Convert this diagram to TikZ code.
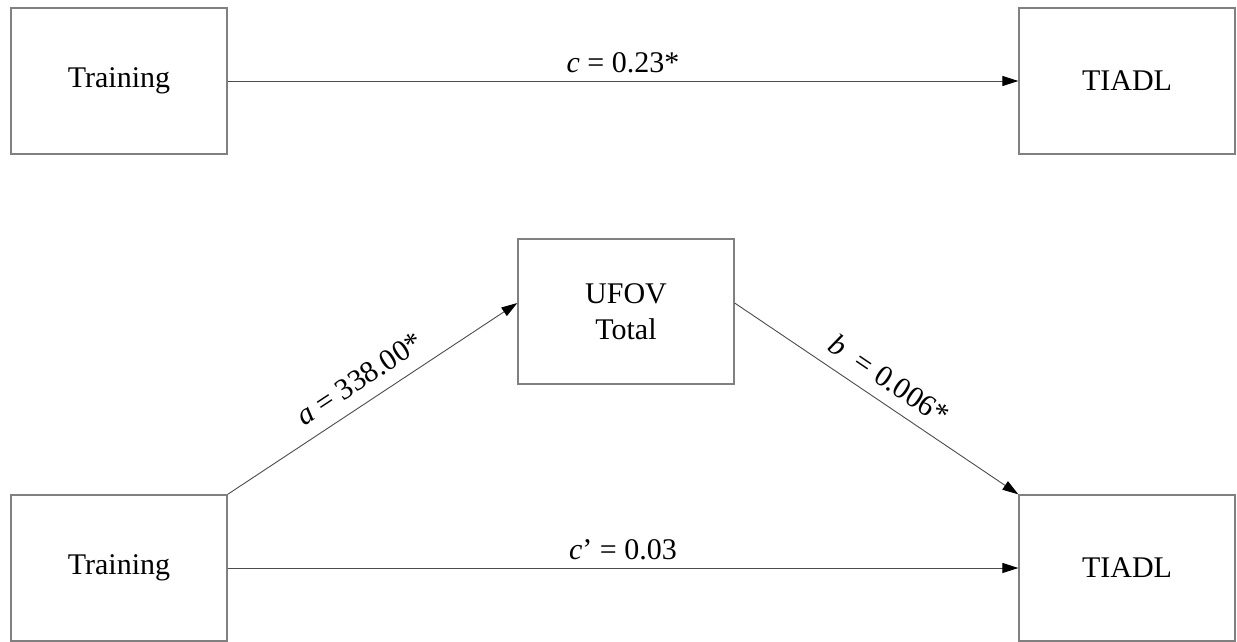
\documentclass[tikz,border=0pt]{standalone}
\usepackage{fontspec}
\setmainfont{Liberation Serif}
\usetikzlibrary{arrows.meta}
\begin{document}
\begin{tikzpicture}[x=1pt,y=-1pt,
  box/.style={draw=black!50,line width=1.3pt,minimum width=216pt,minimum height=146pt,inner sep=0pt,align=center,font=\fontsize{30}{36}\selectfont},
  conn/.style={draw=black!70,line width=0.9pt,-{Triangle[length=16pt,width=10pt,color=black]}},
  lab/.style={font=\fontsize{30}{34}\selectfont,inner sep=2pt}]
\useasboundingbox (0,0) rectangle (1237,642);
\node[box] (t1) at (119,81) {Training};
\node[box] (y1) at (1127,81) {TIADL};
\node[box,minimum height=145pt] (m) at (626,311.5) {UFOV\\Total};
\node[box] (t2) at (119,568) {Training};
\node[box] (y2) at (1127,568) {TIADL};
\draw[conn] (t1.east) -- node[lab,above=6pt] {\textit{c} = 0.23*} (y1.west);
\draw[conn] (t2.east) -- node[lab,above=6pt] {\textit{c}’ = 0.03} (y2.west);
\draw[conn] (t2.north east) -- node[lab,sloped,above=11pt,pos=0.5] {\textit{a} = 338.00*} ([yshift=8.5pt]m.west);
\draw[conn] ([yshift=8.5pt]m.east) -- node[lab,sloped,above=10pt,pos=0.5] {\textit{b}\ \ = 0.006*} (y2.north west);
\end{tikzpicture}
\end{document}
